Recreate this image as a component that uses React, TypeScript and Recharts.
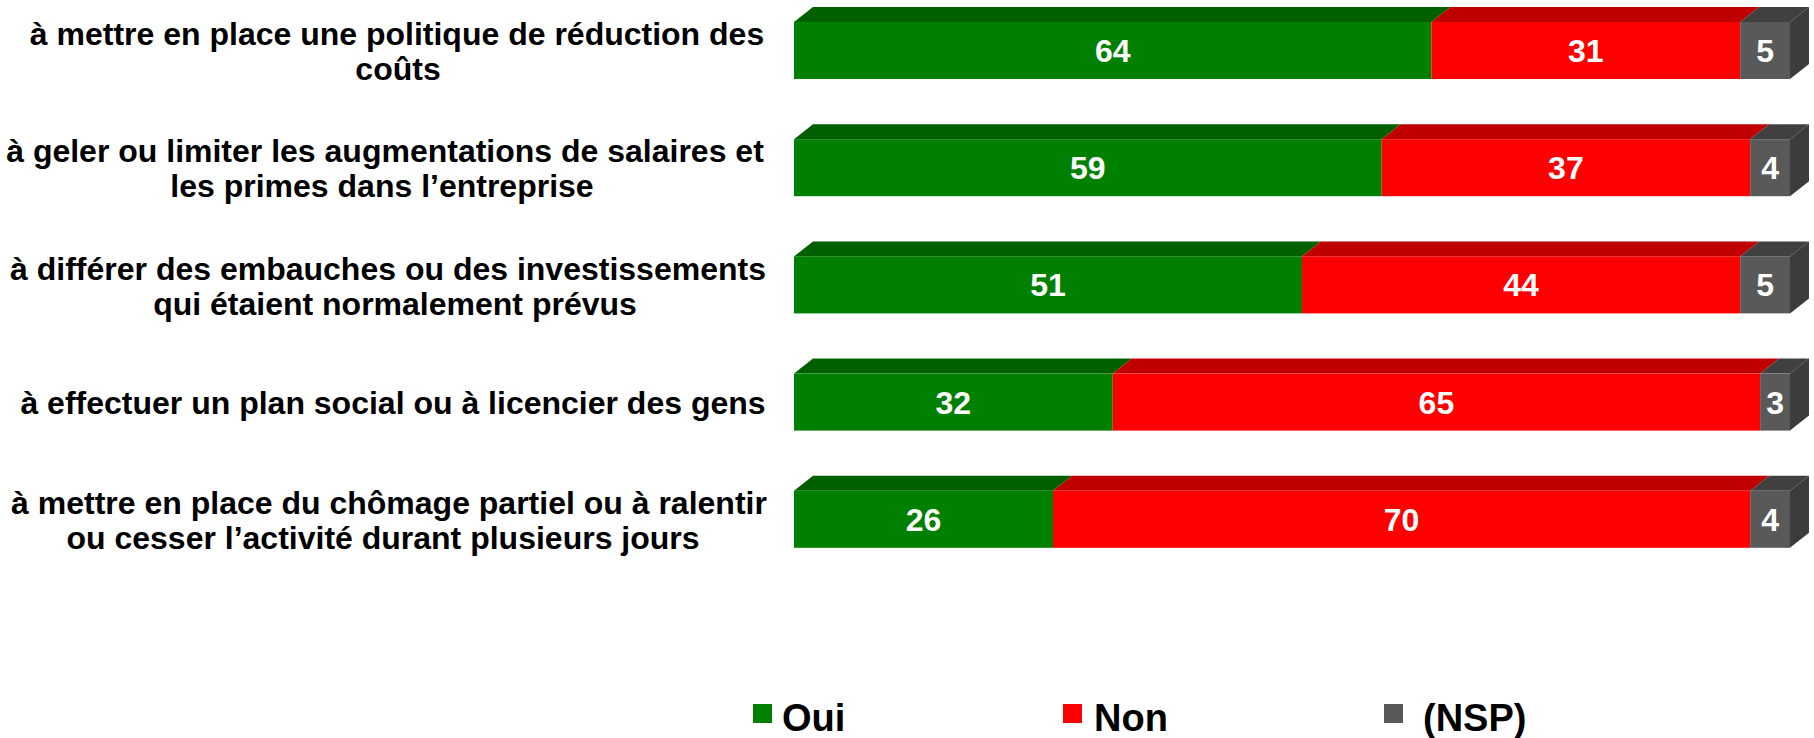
import React from "react";
import { BarChart, Bar, XAxis, YAxis, LabelList } from "recharts";

// ---------- data ----------
const categories = [
  "à mettre en place une politique de réduction des\ncoûts",
  "à geler ou limiter les augmentations de salaires et\nles primes dans l’entreprise",
  "à différer des embauches ou des investissements\nqui étaient normalement prévus",
  "à effectuer un plan social ou à licencier des gens",
  "à mettre en place du chômage partiel ou à ralentir\nou cesser l’activité durant plusieurs jours",
];
const oui = [64, 59, 51, 32, 26];
const non = [31, 37, 44, 65, 70];
const nsp = [5, 4, 5, 3, 4];
const seriesNames = ["Oui", "Non", "(NSP)"];

// ---------- styles / layout ----------
const FONT = "'Liberation Sans', Arial, Helvetica, sans-serif";
const FRONT = ["#008000", "#ff0000", "#595959"];
const TOP = ["#006000", "#c00000", "#404040"];
const SIDE = "#3c3c3c";
const DX = 19;
const DY = 15;
const LABEL_FS = 32;

// per-category line centres (x) for the category labels
const labelCenters = [
  [397, 398],
  [385, 382],
  [388, 395],
  [393],
  [389, 383],
];
const twoLineOffsets = [-5.5, 29.5];
const oneLineOffset = 11.5;

const data = categories.map((c, i) => ({
  cat: c,
  oui: oui[i],
  non: non[i],
  nsp: nsp[i],
}));

const makeShape = (idx: number, withSide: boolean) => (props: any) => {
  const { x, y, width, height } = props;
  if (width == null || height == null) return null;
  const top = `M${x},${y} L${x + DX},${y - DY} L${x + width + DX},${y - DY} L${x + width},${y} Z`;
  const side = `M${x + width},${y} L${x + width + DX},${y - DY} L${x + width + DX},${y + height - DY} L${x + width},${y + height} Z`;
  return (
    <g>
      <path d={top} fill={TOP[idx]} />
      {withSide && <path d={side} fill={SIDE} />}
      <rect x={x} y={y} width={width} height={height} fill={FRONT[idx]} />
    </g>
  );
};

const ValueLabel = (props: any) => {
  const { x, y, width, height, value } = props;
  return (
    <text
      x={x + width / 2}
      y={y + height / 2 + 11.5}
      textAnchor="middle"
      fill="#ffffff"
      fontFamily={FONT}
      fontWeight="bold"
      fontSize={32}
    >
      {value}
    </text>
  );
};

const CategoryTick = (props: any) => {
  const { y, payload } = props;
  let i = payload.index;
  if (i == null || categories[i] !== payload.value) i = categories.indexOf(payload.value);
  const lines = String(payload.value).split("\n");
  const centers = labelCenters[i] || [];
  return (
    <g>
      {lines.map((ln, k) => (
        <text
          key={k}
          x={centers[k] ?? 390}
          y={y + (lines.length === 1 ? oneLineOffset : twoLineOffsets[k])}
          textAnchor="middle"
          fontFamily={FONT}
          fontWeight="bold"
          fontSize={LABEL_FS}
          fill="#000000"
        >
          {ln}
        </text>
      ))}
    </g>
  );
};

// legend layout: square x, text x
const legendLayout = [
  [753, 782],
  [1063, 1094],
  [1384, 1423],
];

export default function App() {
  return (
    <div style={{ position: "absolute", left: 0, top: 0, width: 1814, height: 738, background: "#fff" }}>
      <BarChart
        width={1814}
        height={738}
        data={data}
        layout="vertical"
        margin={{ top: -8, right: 24, bottom: 160, left: 0 }}
        barSize={57}
      >
        <XAxis type="number" domain={[0, 100]} hide />
        <YAxis
          type="category"
          dataKey="cat"
          width={794}
          axisLine={false}
          tickLine={false}
          tick={<CategoryTick />}
          interval={0}
        />
        <Bar dataKey="oui" stackId="s" isAnimationActive={false} shape={makeShape(0, false)}>
          <LabelList dataKey="oui" content={<ValueLabel />} />
        </Bar>
        <Bar dataKey="non" stackId="s" isAnimationActive={false} shape={makeShape(1, false)}>
          <LabelList dataKey="non" content={<ValueLabel />} />
        </Bar>
        <Bar dataKey="nsp" stackId="s" isAnimationActive={false} shape={makeShape(2, true)}>
          <LabelList dataKey="nsp" content={<ValueLabel />} />
        </Bar>
      </BarChart>
      <svg
        width={1814}
        height={738}
        style={{ position: "absolute", left: 0, top: 0, pointerEvents: "none" }}
      >
        {seriesNames.map((n, i) => {
          const [sx, tx] = legendLayout[i];
          return (
            <g key={n}>
              <rect x={sx} y={704} width={19} height={19} fill={FRONT[i]} />
              <text
                x={tx}
                y={731}
                fontFamily={FONT}
                fontWeight="bold"
                fontSize={38}
                fill="#000"
              >
                {n}
              </text>
            </g>
          );
        })}
      </svg>
    </div>
  );
}
